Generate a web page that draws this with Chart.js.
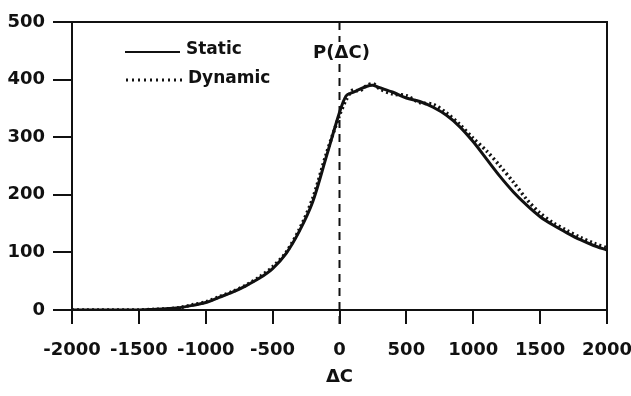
<!DOCTYPE html>
<html lang="en">
  <head>
    <meta charset="UTF-8" />
    <title>P(ΔC) Static vs Dynamic</title>
    <script src="https://cdn.jsdelivr.net/npm/chart.js"></script>
    <style>
      body {
        margin: 0;
        background-color: #ffffff;
      }
      .chart-box {
        width: 631px;
        height: 396px;
      }
    </style>
  </head>
  <body>
    <div class="chart-box">
      <canvas id="dc-chart" width="631" height="396"></canvas>
    </div>

    <script>
      // values
      const deltaC = [
        -2000, -1900, -1800, -1700, -1600, -1500, -1400, -1300, -1200, -1100,
        -1000, -900, -800, -700, -600, -500, -400, -300, -200, -100, 0, 50,
        100, 150, 200, 250, 300, 400, 500, 600, 700, 800, 900, 1000, 1100,
        1200, 1300, 1400, 1500, 1600, 1700, 1800, 1900, 2000,
      ];
      const staticP = [
        0, 0, 0, 0, 0, 0, 1, 2, 4, 8, 13, 22, 31, 42, 55, 72, 98, 137, 188,
        265, 343, 372, 378, 383, 388, 390, 386, 378, 368, 362, 352, 338, 318,
        292, 262, 232, 205, 182, 162, 147, 134, 122, 112, 104,
      ];
      const dynamicP = [
        0, 0, 0, 0, 0, 0, 1, 2, 4, 9, 14, 23, 32, 43, 57, 75, 100, 140, 194,
        270, 338, 365, 382, 380, 389, 393, 384, 375, 372, 360, 357, 342, 322,
        298, 276, 250, 222, 192, 168, 151, 138, 126, 116, 108,
      ];
      const xTicks = [-2000, -1500, -1000, -500, 0, 500, 1000, 1500, 2000];
      const yTicks = [0, 100, 200, 300, 400, 500];

      const ink = "#111111";
      const boldFont = "'DejaVu Sans', sans-serif";

      // frame, dashed line at 0, P(ΔC) label and the inset legend
      const framePlugin = {
        id: "frame",
        afterDatasetsDraw(chart) {
          const ctx = chart.ctx;
          const area = chart.chartArea;
          const xs = chart.scales.x;
          const x0 = xs.getPixelForValue(0);

          ctx.save();
          ctx.strokeStyle = ink;
          ctx.lineWidth = 2;
          ctx.beginPath();
          ctx.moveTo(area.left - 19, area.top);
          ctx.lineTo(area.right, area.top);
          ctx.lineTo(area.right, area.bottom);
          ctx.stroke();

          ctx.setLineDash([8, 6]);
          ctx.beginPath();
          ctx.moveTo(x0, area.top);
          ctx.lineTo(x0, area.bottom + 18);
          ctx.stroke();
          ctx.setLineDash([]);

          ctx.font = "bold 18px " + boldFont;
          ctx.textAlign = "center";
          ctx.textBaseline = "middle";
          const w = ctx.measureText("P(ΔC)").width;
          ctx.fillStyle = "#ffffff";
          ctx.fillRect(x0 - w / 2 - 2, area.top + 20, w + 4, 22);
          ctx.fillStyle = ink;
          ctx.fillText("P(ΔC)", x0 + 2, area.top + 31);

          // legend
          ctx.font = "bold 17px " + boldFont;
          ctx.textAlign = "left";
          ctx.lineWidth = 2;
          ctx.beginPath();
          ctx.moveTo(125, 52);
          ctx.lineTo(180, 52);
          ctx.stroke();
          ctx.fillText("Static", 186, 50);

          ctx.lineWidth = 3;
          ctx.setLineDash([2, 4]);
          ctx.beginPath();
          ctx.moveTo(126, 80);
          ctx.lineTo(186, 80);
          ctx.stroke();
          ctx.setLineDash([]);
          ctx.fillText("Dynamic", 188, 79);
          ctx.restore();
        },
      };

      new Chart(document.getElementById("dc-chart"), {
        type: "line",
        data: {
          datasets: [
            {
              label: "Static",
              data: deltaC.map((x, i) => ({ x: x, y: staticP[i] })),
              borderColor: ink,
              borderWidth: 3,
              pointRadius: 0,
              tension: 0.3,
            },
            {
              label: "Dynamic",
              data: deltaC.map((x, i) => ({ x: x, y: dynamicP[i] })),
              borderColor: ink,
              borderWidth: 3.5,
              borderDash: [2, 3],
              pointRadius: 0,
              tension: 0.3,
            },
          ],
        },
        options: {
          responsive: false,
          animation: false,
          layout: { padding: { top: 22, right: 0, left: 0, bottom: 0 } },
          plugins: {
            legend: { display: false },
            tooltip: { enabled: false },
          },
          scales: {
            x: {
              type: "linear",
              min: -2000,
              max: 2000,
              afterFit(scale) {
                scale.height = 86;
                scale.paddingLeft = 0;
                scale.paddingRight = 24;
              },
              afterBuildTicks(scale) {
                scale.ticks = xTicks.map((v) => ({ value: v }));
              },
              border: { display: true, color: ink, width: 2 },
              grid: {
                drawOnChartArea: false,
                drawTicks: true,
                tickLength: 14,
                color: ink,
                lineWidth: 2,
              },
              ticks: {
                color: ink,
                padding: 16,
                maxRotation: 0,
                autoSkip: false,
                callback: (v) => String(v),
                font: { family: boldFont, size: 18, weight: "bold" },
              },
              title: {
                display: true,
                text: "ΔC",
                color: ink,
                padding: { top: 0, bottom: 8 },
                font: { family: boldFont, size: 18, weight: "bold" },
              },
            },
            y: {
              min: 0,
              max: 500,
              afterFit(scale) {
                scale.width = 72;
              },
              afterBuildTicks(scale) {
                scale.ticks = yTicks.map((v) => ({ value: v }));
              },
              border: { display: true, color: ink, width: 2 },
              grid: {
                drawOnChartArea: false,
                drawTicks: true,
                tickLength: 19,
                color: ink,
                lineWidth: 2,
              },
              ticks: {
                color: ink,
                padding: 8,
                callback: (v) => String(v),
                font: { family: boldFont, size: 18, weight: "bold" },
              },
            },
          },
        },
        plugins: [framePlugin],
      });
    </script>
  </body>
</html>
